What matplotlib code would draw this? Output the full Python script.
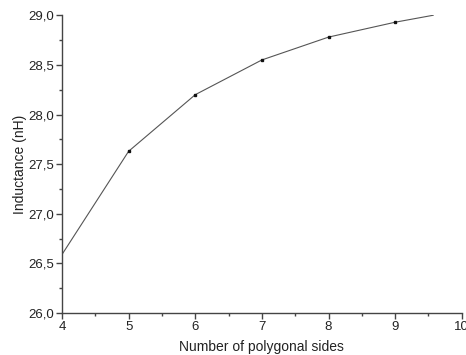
import matplotlib
matplotlib.use("Agg")
import matplotlib.pyplot as plt
from matplotlib.ticker import MultipleLocator, FuncFormatter

sides = [4, 5, 6, 7, 8, 9, 9.57]
inductance = [26.59, 27.63, 28.20, 28.55, 28.78, 28.93, 29.00]
marker_sides = [5, 6, 7, 8, 9]
marker_vals = [27.63, 28.20, 28.55, 28.78, 28.93]

plt.rcParams['font.family'] = ['Liberation Sans', 'DejaVu Sans']

fig = plt.figure(figsize=(4.66, 3.55), dpi=100)
ax = fig.add_axes([0.133, 0.118, 0.858, 0.839])

ax.plot(sides, inductance, color='#555555', lw=0.8)
ax.plot(marker_sides, marker_vals, ls='none', marker='s', ms=2, color='#111111')

ax.set_xlim(4, 10)
ax.set_ylim(26.0, 29.0)
ax.xaxis.set_major_locator(MultipleLocator(1))
ax.xaxis.set_minor_locator(MultipleLocator(0.5))
ax.yaxis.set_major_locator(MultipleLocator(0.5))
ax.yaxis.set_minor_locator(MultipleLocator(0.25))
ax.yaxis.set_major_formatter(FuncFormatter(lambda v, p: f"{v:.1f}".replace('.', ',')))

for s in ['top', 'right']:
    ax.spines[s].set_visible(False)
for s in ['left', 'bottom']:
    ax.spines[s].set_color('#444444')
    ax.spines[s].set_linewidth(1.0)

ax.tick_params(which='major', direction='out', length=4, width=1, colors='#444444',
               labelsize=9.5, labelcolor='#222222', pad=2)
ax.tick_params(which='minor', direction='out', length=2, width=1, colors='#444444')

ax.set_xlabel('Number of polygonal sides', fontsize=10, color='#222222', labelpad=5)
ax.set_ylabel('Inductance (nH)', fontsize=10, color='#222222', labelpad=1)

fig.savefig('out.png', dpi=100)
